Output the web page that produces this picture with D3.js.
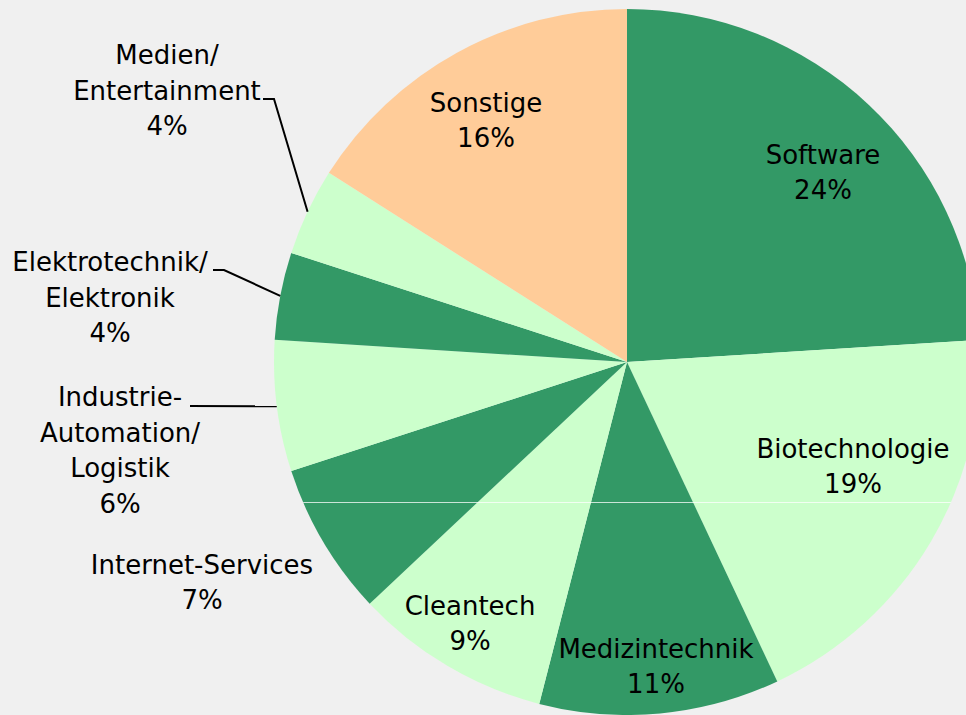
<!DOCTYPE html>
<html>
<head>
<meta charset="utf-8">
<script src="https://cdn.jsdelivr.net/npm/d3@7"></script>
<style>
  html, body { margin: 0; padding: 0; background: #f0f0f0; }
  svg { display: block; }
</style>
</head>
<body>
<div id="chart"></div>
<script>
// Data
const categories = [
  "Software", "Biotechnologie", "Medizintechnik", "Cleantech", "Internet-Services",
  "Industrie-Automation/Logistik", "Elektrotechnik/Elektronik", "Medien/Entertainment", "Sonstige"
];
const shares = [24, 19, 11, 9, 7, 6, 4, 4, 16];
const labelLines = [
  ["Software"], ["Biotechnologie"], ["Medizintechnik"], ["Cleantech"], ["Internet-Services"],
  ["Industrie-", "Automation/", "Logistik"], ["Elektrotechnik/", "Elektronik"],
  ["Medien/", "Entertainment"], ["Sonstige"]
];
const sliceColors = ["#339966", "#ccffcc", "#339966", "#ccffcc", "#339966",
                     "#ccffcc", "#339966", "#ccffcc", "#ffcc99"];

// Dimensions
const width = 966;
const height = 715;
const cx = 627;
const cy = 362;
const radius = 353;
const lineH = 35.5;

// label layout (text block centres, leader start points)
const labelLayout = {
  "Software": { x: 823, y: 172 },
  "Biotechnologie": { x: 853, y: 466 },
  "Medizintechnik": { x: 656, y: 666 },
  "Cleantech": { x: 470, y: 623 },
  "Internet-Services": { x: 202, y: 582 },
  "Industrie-Automation/Logistik": { x: 120, y: 450, leader: [[190, 406]] },
  "Elektrotechnik/Elektronik": { x: 110, y: 297, leader: [[213, 270], [224, 270]] },
  "Medien/Entertainment": { x: 167, y: 90, leader: [[263, 99], [274, 99]] },
  "Sonstige": { x: 486, y: 120 }
};

const data = categories.map((c, i) => ({ name: c, value: shares[i], lines: labelLines[i], color: sliceColors[i] }));

const svg = d3.select("#chart")
  .append("svg")
  .attr("width", width)
  .attr("height", height);

svg.append("rect")
  .attr("width", width)
  .attr("height", height)
  .attr("fill", "#f0f0f0");

const pie = d3.pie()
  .value(d => d.value)
  .sort(null);

const arc = d3.arc()
  .innerRadius(0)
  .outerRadius(radius);

const edgeArc = d3.arc()
  .innerRadius(radius)
  .outerRadius(radius);

const g = svg.append("g")
  .attr("transform", `translate(${cx},${cy})`);

const arcs = pie(data);

g.selectAll(".slice")
  .data(arcs)
  .enter()
  .append("path")
  .attr("class", "slice")
  .attr("d", arc)
  .attr("fill", d => d.data.color);

// faint horizontal seam across the pie, as in the source image
svg.append("clipPath")
  .attr("id", "pieClip")
  .append("circle")
  .attr("cx", cx)
  .attr("cy", cy)
  .attr("r", radius);

svg.append("line")
  .attr("x1", 0)
  .attr("x2", width)
  .attr("y1", 502.5)
  .attr("y2", 502.5)
  .attr("stroke", "#ffffff")
  .attr("stroke-opacity", 0.75)
  .attr("stroke-width", 1)
  .attr("clip-path", "url(#pieClip)");

// leader lines
arcs.forEach(d => {
  const lay = labelLayout[d.data.name];
  if (!lay.leader) return;
  const c = edgeArc.centroid(d);
  const pts = lay.leader.concat([[cx + c[0], cy + c[1]]]);
  svg.append("path")
    .attr("d", d3.line()(pts))
    .attr("fill", "none")
    .attr("stroke", "#000")
    .attr("stroke-width", 2);
});

// labels
arcs.forEach(d => {
  const lay = labelLayout[d.data.name];
  const lines = d.data.lines.concat([d.data.value + "%"]);
  const top = lay.y - (lines.length - 1) * lineH / 2;
  const t = svg.append("text")
    .attr("text-anchor", "middle")
    .style("font-family", "'DejaVu Sans', Verdana, sans-serif")
    .style("font-size", "26px")
    .attr("fill", "#000");
  lines.forEach((ln, i) => {
    t.append("tspan")
      .attr("x", lay.x)
      .attr("y", top + i * lineH + 9.5)
      .text(ln);
  });
});
</script>
</body>
</html>
